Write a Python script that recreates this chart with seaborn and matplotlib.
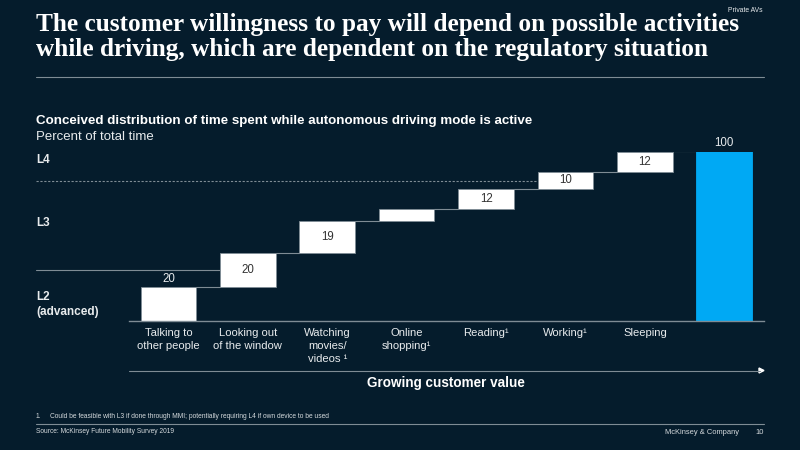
import numpy as np
import matplotlib.pyplot as plt
import seaborn as sns

# data
categories = ['Talking to\nother people', 'Looking out\nof the window', 'Watching\nmovies/\nvideos ¹',
              'Online\nshopping¹', 'Reading¹', 'Working¹', 'Sleeping', ' ']
steps = [20, 20, 19, 7, 12, 10, 12]
total = 100
value_labels = ['20', '20', '19', '', '12', '10', '12', '100']
l3_level = 30
l4_level = 82.5

bg = '#051c2c'
blue = '#00a9f4'
line_col = '#7f8c95'
txt = '#e8ebed'
small_col = '#d5dadd'

sns.set_theme(style='white', rc={'figure.facecolor': bg, 'axes.facecolor': bg, 'text.color': txt,
                                 'xtick.color': txt, 'savefig.facecolor': bg})
plt.rcParams['font.family'] = ['Liberation Sans', 'DejaVu Sans']

W, H = 800, 450
fig = plt.figure(figsize=(8, 4.5), dpi=100)
# plot area in slide pixels
ax = fig.add_axes([128.7 / W, 1 - 321 / H, (764 - 128.7) / W, (321 - 151.5) / H])

bar_w = 0.7
bottoms = np.concatenate([np.cumsum(steps) - steps, [0]])
heights = steps + [total]
sns.barplot(x=categories, y=heights, bottom=bottoms, color='white', width=bar_w, saturation=1,
            edgecolor=line_col, linewidth=0.6, ax=ax)
ax.patches[-1].set_facecolor(blue)
ax.patches[-1].set_edgecolor(blue)

ax.set_xlim(-0.5, 7.5)
ax.set_ylim(0, total)
ax.set_yticks([])
ax.tick_params(axis='x', length=0, pad=5, labelsize=8.1)
for t in ax.get_xticklabels():
    t.set_linespacing(1.36)
for s in ['top', 'left', 'right']:
    ax.spines[s].set_visible(False)
ax.spines['bottom'].set_color(line_col)
ax.spines['bottom'].set_linewidth(1)

# connector lines between steps
tops = bottoms + np.array(heights)
half = bar_w / 2
for i in range(len(steps)):
    ax.plot([i + half, i + 1 - half], [tops[i], tops[i]], color=line_col, lw=0.8)

# value labels
for i, lab in enumerate(value_labels):
    if i == 0 or i == 7:
        ax.text(i, tops[i] + 4.8, lab, ha='center', va='center', fontsize=8.3, clip_on=False)
    elif lab:
        ax.text(i, bottoms[i] + heights[i] / 2, lab, ha='center', va='center', fontsize=8.3, color='#333333')

# regulatory level lines, run out to the left margin
left = (36 - 128.7) / ((764 - 128.7) / 8) - 0.5
ax.plot([left, 1 - half], [l3_level, l3_level], color=line_col, lw=0.8, clip_on=False)
ax.plot([left, 5 - half], [l4_level, l4_level], color=line_col, lw=0.8, ls=(0, (2, 1.5)), clip_on=False)


def text(x, y, s, **kw):
    fig.text(x / W, 1 - y / H, s, va='center', **kw)


def hline(x0, x1, y, lw=0.8):
    fig.add_artist(plt.Line2D([x0 / W, x1 / W], [1 - y / H, 1 - y / H], color=line_col, lw=lw))


text(36, 25, 'The customer willingness to pay will depend on possible activities',
     family=['Liberation Serif'], fontsize=18.2, fontweight='bold', color='white')
text(36, 49.5, 'while driving, which are dependent on the regulatory situation',
     family=['Liberation Serif'], fontsize=18.2, fontweight='bold', color='white')
text(763, 10, 'Private AVs', ha='right', fontsize=4.9)
hline(36, 764, 77)

text(36, 121, 'Conceived distribution of time spent while autonomous driving mode is active',
     fontsize=9.65, fontweight='bold', color='white')
text(36, 137, 'Percent of total time', fontsize=9.55)

text(36, 160, 'L4', fontsize=8.5, fontweight='bold')
text(36, 222.5, 'L3', fontsize=8.5, fontweight='bold')
text(36, 297.5, 'L2', fontsize=8.5, fontweight='bold')
text(36, 312, '(advanced)', fontsize=8.5, fontweight='bold')

# growing value arrow
hline(129, 760, 370.5)
fig.add_artist(plt.Polygon([[759 / W, 1 - 368 / H], [764 / W, 1 - 370.5 / H], [759 / W, 1 - 373 / H]],
                           closed=True, color='white', transform=fig.transFigure))
text(446, 382.5, 'Growing customer value', ha='center', fontsize=9.75, fontweight='bold', color='white')

text(36, 416.5, '1.', fontsize=4.8, color=small_col)
text(50, 416.5, 'Could be feasible with L3 if done through MMI; potentially requiring L4 if own device to be used',
     fontsize=4.75, color=small_col)
hline(36, 764, 423.5)
text(36, 431.5, 'Source: McKinsey Future Mobility Survey 2019', fontsize=4.75, color=small_col)
text(739, 432, 'McKinsey & Company', ha='right', fontsize=5.4, color=small_col)
text(764, 432, '10', ha='right', fontsize=5.4, color=small_col)

fig.savefig('out.png', dpi=100)
